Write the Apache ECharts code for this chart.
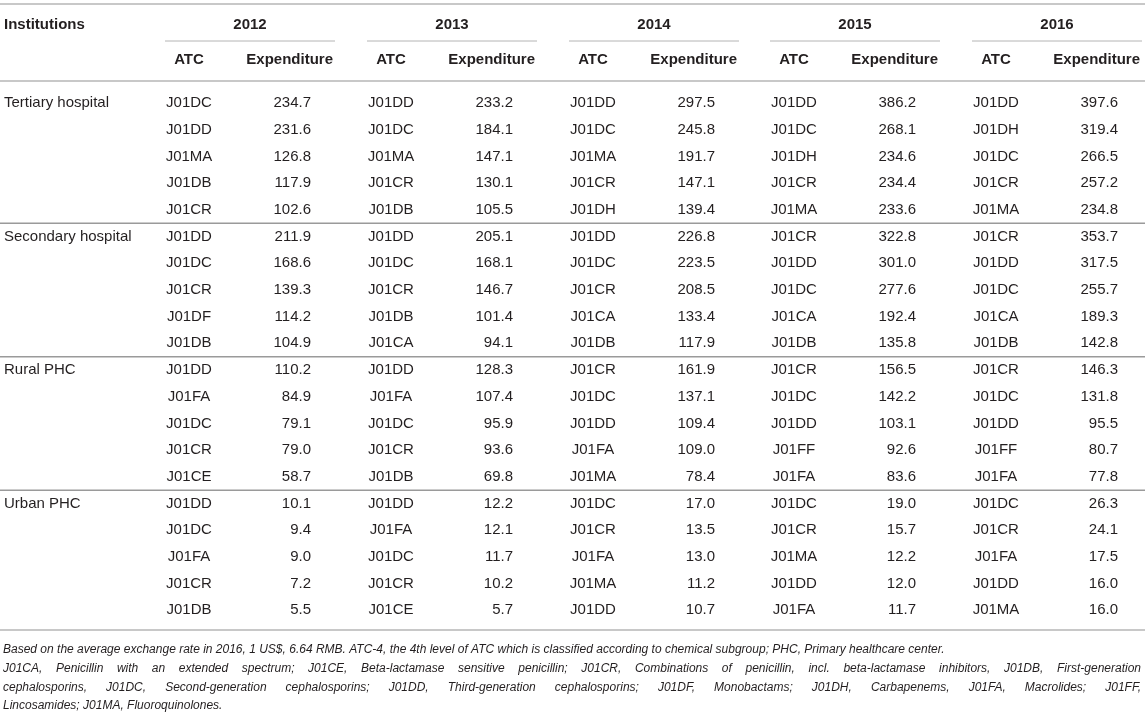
<!DOCTYPE html>
<html>
<head>
<meta charset="utf-8">
<title>Top five antibacterial classes by expenditure</title>
<script src="https://cdn.jsdelivr.net/npm/echarts@6/dist/echarts.min.js"></script>
<style>
html, body { margin: 0; padding: 0; background: #fff; }
#main { width: 1145px; height: 719px; }
</style>
</head>
<body>
<div id="main"></div>
<script>
// table content
var years = ['2012', '2013', '2014', '2015', '2016'];
var institutions = ['Tertiary hospital', 'Secondary hospital', 'Rural PHC', 'Urban PHC'];

var atc2012 = ['J01DC', 'J01DD', 'J01MA', 'J01DB', 'J01CR',
	'J01DD', 'J01DC', 'J01CR', 'J01DF', 'J01DB',
	'J01DD', 'J01FA', 'J01DC', 'J01CR', 'J01CE',
	'J01DD', 'J01DC', 'J01FA', 'J01CR', 'J01DB'];
var exp2012 = [234.7, 231.6, 126.8, 117.9, 102.6,
	211.9, 168.6, 139.3, 114.2, 104.9,
	110.2, 84.9, 79.1, 79.0, 58.7,
	10.1, 9.4, 9.0, 7.2, 5.5];

var atc2013 = ['J01DD', 'J01DC', 'J01MA', 'J01CR', 'J01DB',
	'J01DD', 'J01DC', 'J01CR', 'J01DB', 'J01CA',
	'J01DD', 'J01FA', 'J01DC', 'J01CR', 'J01DB',
	'J01DD', 'J01FA', 'J01DC', 'J01CR', 'J01CE'];
var exp2013 = [233.2, 184.1, 147.1, 130.1, 105.5,
	205.1, 168.1, 146.7, 101.4, 94.1,
	128.3, 107.4, 95.9, 93.6, 69.8,
	12.2, 12.1, 11.7, 10.2, 5.7];

var atc2014 = ['J01DD', 'J01DC', 'J01MA', 'J01CR', 'J01DH',
	'J01DD', 'J01DC', 'J01CR', 'J01CA', 'J01DB',
	'J01CR', 'J01DC', 'J01DD', 'J01FA', 'J01MA',
	'J01DC', 'J01CR', 'J01FA', 'J01MA', 'J01DD'];
var exp2014 = [297.5, 245.8, 191.7, 147.1, 139.4,
	226.8, 223.5, 208.5, 133.4, 117.9,
	161.9, 137.1, 109.4, 109.0, 78.4,
	17.0, 13.5, 13.0, 11.2, 10.7];

var atc2015 = ['J01DD', 'J01DC', 'J01DH', 'J01CR', 'J01MA',
	'J01CR', 'J01DD', 'J01DC', 'J01CA', 'J01DB',
	'J01CR', 'J01DC', 'J01DD', 'J01FF', 'J01FA',
	'J01DC', 'J01CR', 'J01MA', 'J01DD', 'J01FA'];
var exp2015 = [386.2, 268.1, 234.6, 234.4, 233.6,
	322.8, 301.0, 277.6, 192.4, 135.8,
	156.5, 142.2, 103.1, 92.6, 83.6,
	19.0, 15.7, 12.2, 12.0, 11.7];

var atc2016 = ['J01DD', 'J01DH', 'J01DC', 'J01CR', 'J01MA',
	'J01CR', 'J01DD', 'J01DC', 'J01CA', 'J01DB',
	'J01CR', 'J01DC', 'J01DD', 'J01FF', 'J01FA',
	'J01DC', 'J01CR', 'J01FA', 'J01DD', 'J01MA'];
var exp2016 = [397.6, 319.4, 266.5, 257.2, 234.8,
	353.7, 317.5, 255.7, 189.3, 142.8,
	146.3, 131.8, 95.5, 80.7, 77.8,
	26.3, 24.1, 17.5, 16.0, 16.0];

var footnoteLines = [
	'Based on the average exchange rate in 2016, 1 US$, 6.64 RMB. ATC-4, the 4th level of ATC which is classified according to chemical subgroup; PHC, Primary healthcare center.',
	'J01CA, Penicillin with an extended spectrum; J01CE, Beta-lactamase sensitive penicillin; J01CR, Combinations of penicillin, incl. beta-lactamase inhibitors, J01DB, First-generation',
	'cephalosporins, J01DC, Second-generation cephalosporins; J01DD, Third-generation cephalosporins; J01DF, Monobactams; J01DH, Carbapenems, J01FA, Macrolides; J01FF,',
	'Lincosamides; J01MA, Fluoroquinolones.'
];
var footnoteJustify = [false, true, true, false];

var atcCols = [atc2012, atc2013, atc2014, atc2015, atc2016];
var expCols = [exp2012, exp2013, exp2014, exp2015, exp2016];

// layout
var FONT = '"Liberation Sans", Arial, Helvetica, sans-serif';
var INK = '#231f20';
var SIZE = 15;
var FOOT_SIZE = 12;
var groupLeft = [165, 367, 569, 770, 972];
var groupW = 170;
var rowsPerGroup = 5;

var myChart = echarts.init(document.getElementById('main'));

function txt(x, y, s, align, weight, size, style) {
	return {
		type: 'text',
		x: x,
		y: y,
		style: {
			text: s,
			fill: INK,
			fontFamily: FONT,
			fontSize: size || SIZE,
			fontWeight: weight || 'normal',
			fontStyle: style || 'normal',
			textAlign: align || 'left',
			textVerticalAlign: 'middle'
		}
	};
}

function hline(x1, x2, y, color, w) {
	return {
		type: 'line',
		shape: { x1: x1, y1: y, x2: x2, y2: y },
		style: { stroke: color, lineWidth: w }
	};
}

// header
var graphics = [];
graphics.push(hline(0, 1145, 4, '#c8c8c8', 2));
graphics.push(txt(4, 25, 'Institutions', 'left', 'bold'));
years.forEach(function(yr, k) {
	var gx = groupLeft[k];
	graphics.push(txt(gx + groupW / 2, 25, yr, 'center', 'bold'));
	graphics.push(hline(gx, gx + groupW, 41, '#b4b4b4', 1));
	graphics.push(txt(gx + 24, 60, 'ATC', 'center', 'bold'));
	graphics.push(txt(gx + 168, 60, 'Expenditure', 'right', 'bold'));
});
graphics.push(hline(0, 1145, 81, '#c8c8c8', 2));
graphics.push(hline(0, 1145, 630, '#c8c8c8', 2));

// footnote, justified like the source page
var ctx = document.createElement('canvas').getContext('2d');
ctx.font = 'italic ' + FOOT_SIZE + 'px ' + FONT;
var footLeft = 3, footRight = 1141;
footnoteLines.forEach(function(line, i) {
	var y = 650 + i * 18.7;
	var words = line.split(' ');
	var widths = words.map(function(w) { return ctx.measureText(w).width; });
	var total = widths.reduce(function(a, b) { return a + b; }, 0);
	var gap = footnoteJustify[i] ? (footRight - footLeft - total) / (words.length - 1) : ctx.measureText(' ').width;
	var x = footLeft;
	words.forEach(function(w, j) {
		graphics.push(txt(x, y, w, 'left', 'normal', FOOT_SIZE, 'italic'));
		x += widths[j] + gap;
	});
});

var rowData = [];
var rowNames = [];
atc2012.forEach(function(a, i) {
	rowData.push([0, i]);
	rowNames.push('r' + i);
});

var option = {
	animation: false,
	grid: { left: 0, right: 0, top: 89.65, height: 534 },
	xAxis: { type: 'value', min: 0, max: 1145, show: false },
	yAxis: { type: 'category', data: rowNames, inverse: true, show: false },
	graphic: graphics,
	series: [{
		type: 'custom',
		encode: { x: 0, y: 1 },
		data: rowData,
		renderItem: function(params, api) {
			var row = api.value(1);
			var y = api.coord([0, row])[1];
			var band = api.size([0, 1])[1];
			var children = [];
			if (row % rowsPerGroup === 0) {
				children.push(txt(api.coord([4, row])[0], y, institutions[row / rowsPerGroup], 'left'));
			}
			for (var k = 0; k < years.length; k++) {
				var gx = api.coord([groupLeft[k], row])[0];
				children.push(txt(gx + 24, y, atcCols[k][row], 'center'));
				children.push(txt(gx + 146, y, expCols[k][row].toFixed(1), 'right'));
			}
			if (row % rowsPerGroup === rowsPerGroup - 1 && row < atc2012.length - 1) {
				children.push(hline(0, 1145, y + band / 2, '#9a9a9a', 1.5));
			}
			return { type: 'group', children: children };
		}
	}]
};

myChart.setOption(option);
</script>
</body>
</html>
